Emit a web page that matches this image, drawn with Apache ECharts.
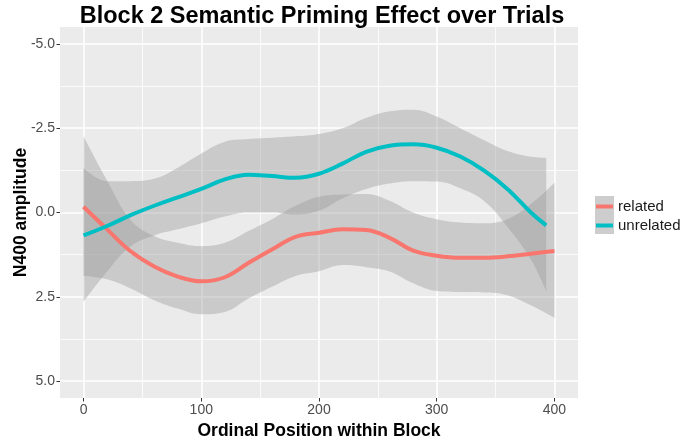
<!DOCTYPE html>
<html>
<head>
<meta charset="utf-8">
<script src="https://cdn.jsdelivr.net/npm/echarts@6/dist/echarts.min.js"></script>
<style>
  html, body { margin: 0; padding: 0; background: #fff; }
  #chart { width: 695px; height: 440px; }
</style>
</head>
<body>
<div id="chart"></div>
<script>
// related (red) smooth fit and its confidence band
var relX    = [0, 20, 40, 60, 80, 100, 120, 140, 160, 180, 200, 220, 240, 260, 280, 300, 320, 340, 360, 380, 400];
var relFit  = [-0.17, 0.5, 1.15, 1.6, 1.9, 2.04, 1.92, 1.5, 1.1, 0.72, 0.6, 0.5, 0.52, 0.75, 1.13, 1.28, 1.34, 1.34, 1.3, 1.22, 1.14];
var relLow  = [-2.26, -0.95, 0.22, 0.7, 0.9, 1.0, 0.9, 0.55, 0.2, -0.2, -0.47, -0.53, -0.55, -0.35, 0.0, 0.2, 0.3, 0.32, 0.2, -0.25, -0.88];
var relHigh = [1.88, 1.98, 2.25, 2.6, 2.85, 3.02, 2.95, 2.55, 2.2, 1.88, 1.74, 1.56, 1.62, 1.75, 2.1, 2.33, 2.36, 2.37, 2.45, 2.75, 3.12];

// unrelated (cyan) smooth fit and its confidence band
var unrX    = [0, 20, 40, 60, 80, 100, 120, 140, 160, 180, 200, 220, 240, 260, 280, 300, 320, 340, 360, 380, 393];
var unrFit  = [0.68, 0.4, 0.08, -0.2, -0.45, -0.7, -0.98, -1.12, -1.08, -1.03, -1.15, -1.45, -1.8, -1.98, -2.02, -1.92, -1.66, -1.25, -0.7, 0.0, 0.38];
var unrLow  = [-1.32, -0.93, -0.93, -1.0, -1.33, -1.75, -2.1, -2.18, -2.22, -2.26, -2.33, -2.5, -2.8, -3.0, -3.05, -2.85, -2.5, -2.15, -1.82, -1.65, -1.62];
var unrHigh = [2.65, 1.75, 1.0, 0.68, 0.5, 0.32, 0.12, 0.0, 0.0, 0.06, -0.05, -0.42, -0.7, -0.86, -0.93, -0.92, -0.72, -0.35, 0.42, 1.39, 2.33];

var xTicks = [0, 100, 200, 300, 400];
var xMinor = [50, 150, 250, 350];
var yTicks = [-5, -2.5, 0, 2.5, 5];
var yMinor = [-3.75, -1.25, 1.25, 3.75];

var FONT = '"Liberation Sans", Arial, sans-serif';

function pairs(xs, ys) {
  return xs.map(function (x, i) { return [x, ys[i]]; });
}
// value first so that the stack runs on y, not on x
function flipped(xs, ys) {
  return xs.map(function (x, i) { return [ys[i], x]; });
}
function diffs(lo, hi) {
  return hi.map(function (h, i) { return h - lo[i]; });
}

// band = invisible lower line + stacked width with fill
function bandSeries(name, xs, lo, hi) {
  return [{
    name: name + 'Base',
    type: 'line',
    stack: name,
    stackStrategy: 'all',
    encode: { x: 1, y: 0 },
    data: flipped(xs, lo),
    smooth: 0.4,
    symbol: 'none',
    silent: true,
    lineStyle: { opacity: 0 },
    z: 1
  }, {
    name: name + 'Band',
    type: 'line',
    stack: name,
    stackStrategy: 'all',
    encode: { x: 1, y: 0 },
    data: flipped(xs, diffs(lo, hi)),
    smooth: 0.4,
    symbol: 'none',
    silent: true,
    lineStyle: { opacity: 0 },
    areaStyle: { color: 'rgba(153,153,153,0.4)', opacity: 1 },
    z: 1
  }];
}

var chart = echarts.init(document.getElementById('chart'));

var option = {
  animation: false,
  title: {
    text: 'Block 2 Semantic Priming Effect over Trials',
    left: 317,
    textAlign: 'center',
    top: 0,
    textStyle: { fontFamily: FONT, fontSize: 23.5, fontWeight: 'bold', color: '#000' }
  },
  legend: {
    data: ['related', 'unrelated'],
    orient: 'vertical',
    left: 596,
    top: 197,
    padding: 0,
    itemWidth: 17,
    itemHeight: 4,
    itemGap: 0,
    icon: 'rect',
    textStyle: { fontFamily: FONT, fontSize: 15, color: '#1a1a1a', lineHeight: 19 }
  },
  graphic: [{
    type: 'rect',
    shape: { x: 595, y: 196, width: 19, height: 38 },
    style: { fill: '#cdcdcd' },
    z: 0
  }],
  grid: {
    left: 60, right: 117, top: 27, bottom: 42,
    outerBoundsMode: 'none',
    show: true, backgroundColor: '#ebebeb', borderWidth: 0
  },
  xAxis: [{
    type: 'value',
    min: -20, max: 420,
    name: 'Ordinal Position within Block',
    nameLocation: 'middle',
    nameGap: 19,
    nameTextStyle: { fontFamily: FONT, fontSize: 17.5, fontWeight: 'bold', color: '#000' },
    axisLine: { show: false, onZero: false },
    axisTick: { show: true, length: 3.5, customValues: xTicks, lineStyle: { color: '#333' } },
    axisLabel: { customValues: xTicks, margin: 5, fontFamily: FONT, fontSize: 14, color: '#4d4d4d' },
    splitLine: { show: true, lineStyle: { color: '#fff', width: 1.6 } }
  }, {
    type: 'value',
    min: -20, max: 420,
    position: 'top',
    axisLine: { show: false, onZero: false },
    axisTick: { show: false, customValues: xMinor },
    axisLabel: { show: false, customValues: xMinor },
    splitLine: { show: true, lineStyle: { color: '#fff', width: 0.8 } }
  }],
  yAxis: [{
    type: 'value',
    inverse: true,
    min: -5.5, max: 5.5,
    name: 'N400 amplitude',
    nameLocation: 'middle',
    nameGap: 30,
    nameMoveOverlap: false,
    nameTextStyle: { fontFamily: FONT, fontSize: 17.5, fontWeight: 'bold', color: '#000' },
    axisLine: { show: false, onZero: false },
    axisTick: { show: true, length: 3.5, customValues: yTicks, lineStyle: { color: '#333' } },
    axisLabel: {
      customValues: yTicks, margin: 5, fontFamily: FONT, fontSize: 14, color: '#4d4d4d',
      formatter: function (v) { return v.toFixed(1); }
    },
    splitLine: { show: true, lineStyle: { color: '#fff', width: 1.6 } }
  }, {
    type: 'value',
    inverse: true,
    min: -5.5, max: 5.5,
    position: 'right',
    axisLine: { show: false, onZero: false },
    axisTick: { show: false, customValues: yMinor },
    axisLabel: { show: false, customValues: yMinor },
    splitLine: { show: true, lineStyle: { color: '#fff', width: 0.8 } }
  }],
  series: [].concat(
    bandSeries('rel', relX, relLow, relHigh),
    bandSeries('unr', unrX, unrLow, unrHigh),
    [{
      name: 'related',
      type: 'line',
      data: pairs(relX, relFit),
      smooth: 0.4,
      symbol: 'none',
      color: '#F8766D',
      lineStyle: { width: 4, color: '#F8766D' },
      z: 3
    }, {
      name: 'unrelated',
      type: 'line',
      data: pairs(unrX, unrFit),
      smooth: 0.4,
      symbol: 'none',
      color: '#00BFC4',
      lineStyle: { width: 4, color: '#00BFC4' },
      z: 3
    }]
  )
};

chart.setOption(option);
</script>
</body>
</html>
